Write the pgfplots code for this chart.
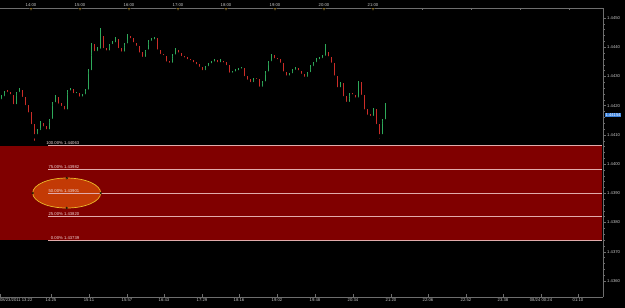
\documentclass[border=0pt]{standalone}
\usepackage{fontspec}
\setmainfont{Liberation Sans}
\usepackage{pgfplots}
\usepackage{pgfplotstable}
\pgfplotsset{compat=1.18}
\definecolor{upc}{RGB}{46,170,90}
\definecolor{dnc}{RGB}{205,45,40}
\definecolor{fibo}{RGB}{128,0,0}
\definecolor{fibl}{RGB}{225,170,170}
\definecolor{fibt}{RGB}{240,215,215}
\definecolor{ellf}{RGB}{195,58,5}
\definecolor{elld}{RGB}{235,185,40}
\definecolor{axc}{RGB}{110,110,110}
\definecolor{lbl}{RGB}{200,200,200}
\definecolor{tri}{RGB}{215,170,60}
\definecolor{tagc}{RGB}{60,130,220}
\newcommand\tf{\fontsize{4.2}{5}\selectfont}

\pgfplotstableread{
x o h l c
1 1.44215 1.44235 1.44208 1.44225
4 1.44225 1.44250 1.44220 1.44242
16 1.44198 1.44246 1.44194 1.44240
19 1.44240 1.44260 1.44235 1.44250
37 1.44095 1.44120 1.44086 1.44110
40 1.44110 1.44146 1.44105 1.44136
49 1.44112 1.44156 1.44108 1.44148
52 1.44148 1.44214 1.44142 1.44205
55 1.44205 1.44236 1.44200 1.44225
67 1.44180 1.44254 1.44176 1.44245
70 1.44245 1.44262 1.44238 1.44250
76 1.44236 1.44248 1.44229 1.44239
82 1.44224 1.44240 1.44218 1.44232
85 1.44232 1.44258 1.44228 1.44248
88 1.44248 1.44324 1.44242 1.44315
91 1.44315 1.44416 1.44310 1.44405
97 1.44380 1.44400 1.44374 1.44388
100 1.44388 1.44466 1.44382 1.44435
109 1.44382 1.44412 1.44378 1.44404
112 1.44404 1.44420 1.44398 1.44410
115 1.44410 1.44434 1.44406 1.44423
124 1.44378 1.44414 1.44374 1.44406
127 1.44406 1.44444 1.44400 1.44435
145 1.44360 1.44392 1.44356 1.44385
148 1.44385 1.44424 1.44380 1.44415
151 1.44415 1.44430 1.44410 1.44420
154 1.44420 1.44436 1.44414 1.44426
172 1.44340 1.44376 1.44336 1.44368
175 1.44368 1.44396 1.44362 1.44387
205 1.44315 1.44336 1.44310 1.44328
208 1.44328 1.44346 1.44322 1.44338
211 1.44338 1.44354 1.44332 1.44344
214 1.44344 1.44360 1.44338 1.44350
220 1.44342 1.44358 1.44336 1.44348
232 1.44306 1.44318 1.44300 1.44310
235 1.44310 1.44324 1.44304 1.44314
238 1.44314 1.44330 1.44308 1.44320
241 1.44320 1.44334 1.44314 1.44322
253 1.44274 1.44294 1.44270 1.44286
262 1.44258 1.44284 1.44254 1.44276
265 1.44276 1.44318 1.44270 1.44310
268 1.44310 1.44354 1.44306 1.44345
271 1.44345 1.44376 1.44340 1.44366
289 1.44296 1.44312 1.44290 1.44304
292 1.44304 1.44324 1.44300 1.44316
295 1.44316 1.44334 1.44310 1.44324
307 1.44292 1.44316 1.44288 1.44308
310 1.44308 1.44338 1.44302 1.44329
313 1.44329 1.44350 1.44324 1.44342
316 1.44342 1.44362 1.44336 1.44352
319 1.44352 1.44366 1.44346 1.44356
322 1.44356 1.44374 1.44350 1.44364
325 1.44364 1.44412 1.44358 1.44376
340 1.44256 1.44280 1.44250 1.44272
349 1.44206 1.44244 1.44200 1.44235
358 1.44221 1.44286 1.44216 1.44275
373 1.44158 1.44192 1.44152 1.44184
382 1.44095 1.44154 1.44090 1.44146
385 1.44146 1.44210 1.44140 1.44200
}\uptab

\pgfplotstableread{
x o h l c
7 1.44242 1.44252 1.44234 1.44240
10 1.44240 1.44246 1.44226 1.44232
13 1.44232 1.44236 1.44190 1.44198
22 1.44250 1.44255 1.44218 1.44223
25 1.44223 1.44230 1.44188 1.44195
28 1.44195 1.44202 1.44162 1.44170
31 1.44170 1.44178 1.44122 1.44130
34 1.44130 1.44136 1.44073 1.44095
43 1.44136 1.44142 1.44114 1.44122
46 1.44122 1.44130 1.44100 1.44112
58 1.44225 1.44230 1.44194 1.44200
61 1.44200 1.44208 1.44184 1.44192
64 1.44192 1.44200 1.44170 1.44180
73 1.44250 1.44256 1.44228 1.44236
79 1.44239 1.44244 1.44216 1.44224
94 1.44405 1.44410 1.44372 1.44380
103 1.44435 1.44440 1.44384 1.44390
106 1.44390 1.44398 1.44376 1.44382
118 1.44423 1.44428 1.44384 1.44390
121 1.44390 1.44396 1.44370 1.44378
130 1.44435 1.44440 1.44418 1.44424
133 1.44424 1.44430 1.44402 1.44410
136 1.44410 1.44416 1.44390 1.44398
139 1.44398 1.44404 1.44368 1.44375
142 1.44375 1.44382 1.44350 1.44360
157 1.44426 1.44430 1.44380 1.44385
160 1.44385 1.44392 1.44364 1.44370
163 1.44370 1.44378 1.44358 1.44366
166 1.44366 1.44370 1.44336 1.44344
169 1.44344 1.44352 1.44332 1.44340
178 1.44387 1.44392 1.44368 1.44375
181 1.44375 1.44380 1.44356 1.44363
184 1.44363 1.44370 1.44350 1.44358
187 1.44358 1.44366 1.44346 1.44352
190 1.44352 1.44360 1.44342 1.44349
193 1.44349 1.44356 1.44336 1.44342
196 1.44342 1.44350 1.44328 1.44335
199 1.44335 1.44342 1.44318 1.44326
202 1.44326 1.44332 1.44306 1.44315
217 1.44350 1.44356 1.44334 1.44342
223 1.44348 1.44354 1.44334 1.44341
226 1.44341 1.44348 1.44326 1.44332
229 1.44332 1.44338 1.44298 1.44306
244 1.44322 1.44328 1.44288 1.44294
247 1.44294 1.44300 1.44276 1.44282
250 1.44282 1.44290 1.44266 1.44274
256 1.44286 1.44294 1.44276 1.44285
259 1.44285 1.44290 1.44250 1.44258
274 1.44366 1.44372 1.44348 1.44355
277 1.44355 1.44364 1.44344 1.44352
280 1.44352 1.44358 1.44332 1.44340
283 1.44340 1.44346 1.44304 1.44310
286 1.44310 1.44316 1.44288 1.44296
298 1.44324 1.44330 1.44308 1.44314
301 1.44314 1.44320 1.44296 1.44302
304 1.44302 1.44308 1.44284 1.44292
328 1.44376 1.44382 1.44356 1.44362
331 1.44362 1.44368 1.44332 1.44340
334 1.44340 1.44346 1.44290 1.44296
337 1.44296 1.44302 1.44248 1.44256
343 1.44272 1.44278 1.44218 1.44225
346 1.44225 1.44232 1.44196 1.44206
352 1.44235 1.44242 1.44224 1.44232
355 1.44232 1.44238 1.44214 1.44221
361 1.44275 1.44280 1.44224 1.44230
364 1.44230 1.44236 1.44172 1.44180
367 1.44180 1.44188 1.44154 1.44162
370 1.44162 1.44170 1.44150 1.44158
376 1.44184 1.44190 1.44122 1.44130
379 1.44130 1.44136 1.44080 1.44095
}\dntab

\begin{document}
\begin{tikzpicture}
\fill[black] (0,0) rectangle (625pt,308pt);
\useasboundingbox (0,0) rectangle (625pt,308pt);

\begin{axis}[
  at={(0pt,11pt)}, anchor=south west, scale only axis,
  width=603pt, height=289pt,
  xmin=0, xmax=603, ymin=1.435452, ymax=1.445342,
  axis x line*=bottom, axis y line*=right,
  axis line style={draw=axc, line width=0.5pt},
  clip=false,
  xtick={0,51,89,127,164,202,239,277,315,353,391,428,466,503,541,578},
  xticklabels={{\makebox[0pt][l]{08/23/2011 13:22}},14:25,15:11,15:57,16:43,17:29,18:16,19:02,19:48,20:34,21:20,22:06,22:52,23:38,08/24 00:24,01:10},
  minor x tick num=4,
  xtick align=inside, ytick align=outside,
  major tick length=3pt, minor tick length=1.5pt,
  tick style={draw=axc, line width=0.4pt},
  ytick={1.436,1.437,1.438,1.439,1.440,1.441,1.442,1.443,1.444,1.445},
  yticklabels={1.4360,1.4370,1.4380,1.4390,1.4400,1.4410,1.4420,1.4430,1.4440,1.4450},
  minor y tick num=4,
  ticklabel style={font=\tf, text=lbl},
  xticklabel style={inner sep=1pt},
  yticklabel style={inner sep=1pt},
]
% Fibonacci zone
\addplot[draw=none, fill=fibo] coordinates {(0,1.43739) (602,1.43739) (602,1.44063) (0,1.44063)} -- cycle;
% ellipse
\draw[fill=ellf, draw=elld, line width=0.7pt] (axis cs:66.7,1.43901) ellipse [x radius=34pt, y radius=15pt];
\addplot[only marks, mark=*, mark size=0.9pt, mark options={fill=elld, draw=none}]
  coordinates {(32.7,1.43901) (100.7,1.43901) (66.7,1.43952) (66.7,1.43850)};
% levels
\addplot[fibl, line width=0.5pt] coordinates {(48,1.44063) (602,1.44063)};
\addplot[fibl, line width=0.5pt] coordinates {(48,1.43982) (602,1.43982)};
\addplot[fibl, line width=0.5pt] coordinates {(48,1.43901) (602,1.43901)};
\addplot[fibl, line width=0.5pt] coordinates {(48,1.43820) (602,1.43820)};
\addplot[fibl, line width=0.5pt] coordinates {(48,1.43739) (602,1.43739)};
\node[anchor=south east, font=\tf, text=fibt, inner sep=0.6pt] at (axis cs:80,1.44063) {100.00\% 1.44063};
\node[anchor=south east, font=\tf, text=fibt, inner sep=0.6pt] at (axis cs:80,1.43982) {75.00\% 1.43982};
\node[anchor=south east, font=\tf, text=fibt, inner sep=0.6pt] at (axis cs:80,1.43901) {50.00\% 1.43901};
\node[anchor=south east, font=\tf, text=fibt, inner sep=0.6pt] at (axis cs:80,1.43820) {25.00\% 1.43820};
\node[anchor=south east, font=\tf, text=fibt, inner sep=0.6pt] at (axis cs:80,1.43739) {0.00\% 1.43739};
% candles: wicks
\addplot[only marks, mark=none, error bars/.cd, y dir=plus, y explicit, error mark=none,
  error bar style={draw=upc, line width=0.45pt}]
  table[x=x, y=l, y error plus expr=\thisrow{h}-\thisrow{l}] {\uptab};
\addplot[only marks, mark=none, error bars/.cd, y dir=plus, y explicit, error mark=none,
  error bar style={draw=dnc, line width=0.45pt}]
  table[x=x, y=l, y error plus expr=\thisrow{h}-\thisrow{l}] {\dntab};
% candles: bodies
\addplot[only marks, mark=none, error bars/.cd, y dir=plus, y explicit, error mark=none,
  error bar style={draw=upc, line width=0.85pt}]
  table[x=x, y=o, y error plus expr=\thisrow{c}-\thisrow{o}] {\uptab};
\addplot[only marks, mark=none, error bars/.cd, y dir=plus, y explicit, error mark=none,
  error bar style={draw=dnc, line width=0.85pt}]
  table[x=x, y=c, y error plus expr=\thisrow{o}-\thisrow{c}] {\dntab};
% price tag
\node[fill=tagc, text=white, anchor=west, inner sep=0.8pt, font=\tf] at (axis cs:604.5,1.44168) {1.44154};
\end{axis}

\begin{axis}[
  at={(0pt,11pt)}, anchor=south west, scale only axis,
  width=603pt, height=289pt,
  xmin=0, xmax=603, ymin=0, ymax=1,
  axis x line*=top, axis y line=none,
  axis line style={draw=axc, line width=0.5pt},
  clip=false,
  xtick={31,80,129,178,226,275,324,373,422,471,520,569},
  xticklabels={14:00,15:00,16:00,17:00,18:00,19:00,20:00,21:00,,,,},
  minor x tick num=2,
  xtick align=inside,
  major tick length=2pt, minor tick length=1.2pt,
  tick style={draw=axc, line width=0.4pt},
  ticklabel style={font=\tf, text=lbl},
  xticklabel style={inner sep=1pt},
]
\addplot[only marks, mark=triangle*, mark size=1.7pt, mark options={rotate=180, fill=tri, draw=none}]
  coordinates {(31,0.997) (80,0.997) (129,0.997) (178,0.997) (226,0.997) (275,0.997) (324,0.997) (373,0.997)};
\end{axis}
\end{tikzpicture}
\end{document}
